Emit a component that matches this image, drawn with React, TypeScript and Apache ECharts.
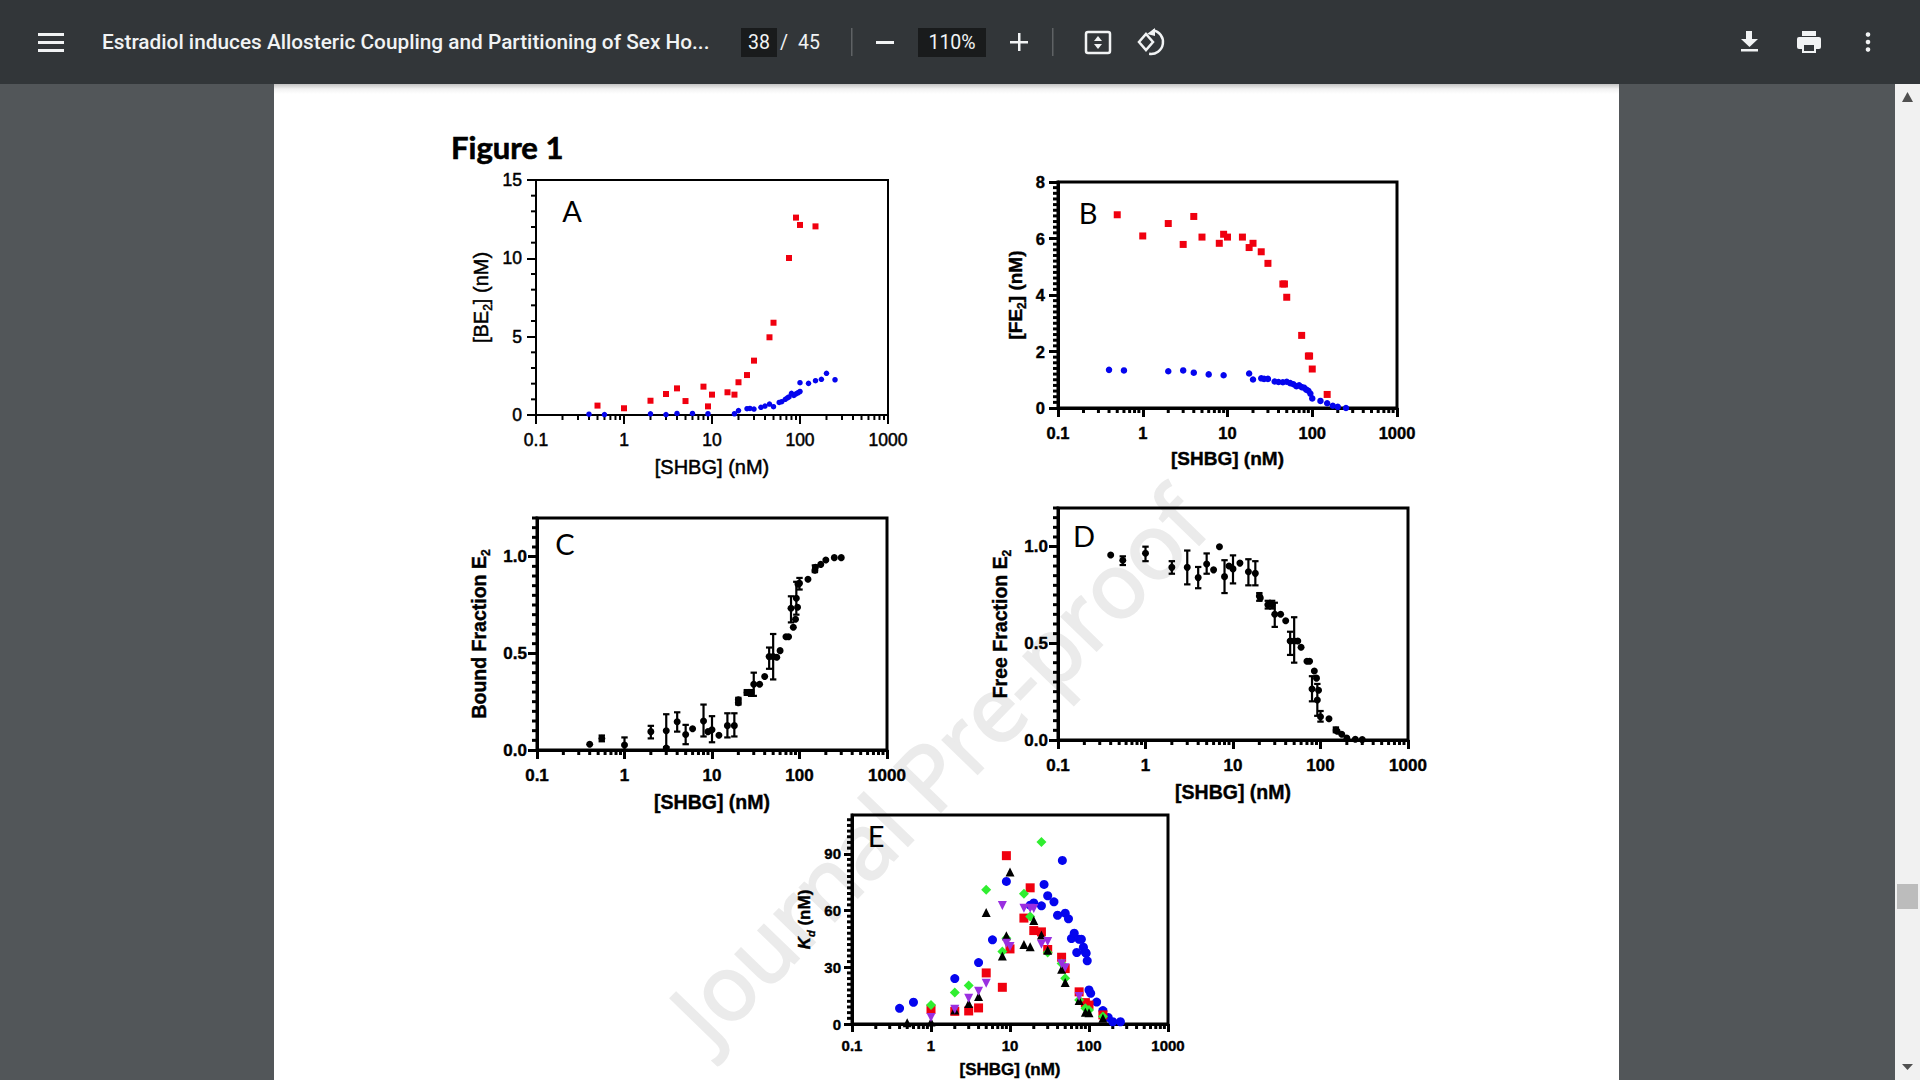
import React, { useEffect, useRef } from "react";
import * as echarts from "echarts";

const docTitle = "Estradiol induces Allosteric Coupling and Partitioning of Sex Ho...";
const figureTitle = "Figure 1";
const watermark = "Journal Pre-proof";
const xName = "[SHBG] (nM)";
const xMinor = [0.2,0.3,0.4,0.5,0.6,0.7,0.8,0.9,2,3,4,5,6,7,8,9,20,30,40,50,60,70,80,90,200,300,400,500,600,700,800,900];

// Panel A: [SHBG], [BE2]
const aRed = [[0.5,0.6],[1,0.43],[2,0.91],[3,1.34],[4,1.7],[5,0.89],[8,1.81],[9,0.55],[10,1.3],[15,1.45],[18,1.3],[20,2.09],[25,2.55],[30,3.47],[45,4.96],[50,5.89],[75,10.02],[90,12.6],[100,12.13],[150,12.04]];
const aBlue = [[0.4,0.05],[0.6,0.03],[2,0.07],[3,0.03],[4,0.1],[6,0.1],[9,0.08],[18,0.08],[20,0.28],[25,0.4],[27,0.42],[30,0.38],[36,0.49],[40,0.57],[45,0.7],[50,0.53],[58,0.8],[62,0.85],[68,1.0],[72,1.1],[75,1.15],[80,1.38],[85,1.25],[90,1.35],[95,1.42],[100,1.5],[100,2.06],[125,2.02],[150,2.19],[175,2.28],[200,2.66],[250,2.25]];

// Panel B: [SHBG], [FE2]
const bRed = [[0.5,6.84],[1,6.09],[2,6.53],[3,5.79],[4,6.78],[5,6.05],[8,5.83],[9,6.15],[10,6.05],[15,6.05],[18,5.68],[20,5.83],[25,5.53],[30,5.12],[45,4.39],[47,4.39],[50,3.92],[75,2.57],[90,1.84],[93,1.84],[100,1.38],[150,0.48]];
const bBlue = [[0.4,1.35],[0.6,1.33],[2,1.3],[3,1.33],[4,1.25],[6,1.19],[9,1.16],[18,1.22],[20,1.01],[25,1.05],[27,1.03],[30,1.03],[36,0.94],[40,0.92],[45,0.91],[50,0.93],[55,0.88],[60,0.84],[65,0.77],[70,0.8],[75,0.74],[80,0.72],[85,0.65],[90,0.61],[95,0.51],[100,0.34],[125,0.25],[150,0.17],[175,0.08],[200,0.04],[250,0]];

// Panel C: [SHBG], bound fraction, error low, error high
const cMeans = [[0.4,0.03],[0.55,0.06],[1,0.026],[2,0.095],[3,0.1],[3,0.01],[4,0.146],[5,0.08],[6,0.11],[8,0.15],[9,0.095],[10,0.105],[12,0.076],[15,0.126],[18,0.126],[20,0.245],[20,0.26],[25,0.297],[28,0.297],[30,0.34],[35,0.34],[40,0.38],[45,0.483],[50,0.483],[55,0.48],[60,0.514],[70,0.586],[75,0.586],[80,0.733],[85,0.635],[90,0.676],[92,0.785],[95,0.738],[100,0.862],[96,0.858],[125,0.883],[150,0.93],[152,0.945],[175,0.96],[200,0.983],[250,0.995],[300,0.995]];
const cErrors = [[0.55,0.045,0.075],[1,0,0.065],[2,0.06,0.125],[3,0.015,0.185],[4,0.095,0.195],[5,0.03,0.13],[8,0.07,0.235],[10,0.04,0.175],[15,0.065,0.19],[18,0.07,0.19],[20,0.235,0.27],[25,0.285,0.31],[28,0.28,0.31],[30,0.28,0.4],[45,0.42,0.53],[50,0.365,0.6],[80,0.66,0.795],[92,0.7,0.87],[100,0.83,0.89],[150,0.92,0.955]];

// Panel D: [SHBG], free fraction, error low, error high
const dMeans = [[0.4,0.957],[0.55,0.93],[1,0.966],[2,0.893],[3,0.893],[4,0.84],[5,0.91],[6,0.88],[7,1.0],[8,0.845],[9,0.9],[10,0.885],[12,0.915],[15,0.87],[18,0.862],[20,0.745],[20.5,0.735],[25,0.7],[28,0.7],[30,0.65],[35,0.65],[40,0.617],[45,0.512],[50,0.512],[55,0.512],[60,0.48],[70,0.407],[75,0.407],[80,0.264],[85,0.357],[90,0.32],[92,0.207],[95,0.257],[100,0.12],[125,0.11],[150,0.052],[155,0.045],[175,0.03],[200,0.01],[250,0.004],[300,0.002]];
const dErrors = [[0.55,0.905,0.95],[1,0.925,1.0],[2,0.86,0.925],[3,0.805,0.98],[4,0.785,0.895],[5,0.86,0.965],[8,0.76,0.93],[10,0.81,0.955],[15,0.8,0.935],[18,0.8,0.925],[20,0.72,0.76],[25,0.68,0.72],[28,0.68,0.72],[30,0.585,0.71],[45,0.44,0.56],[50,0.4,0.635],[80,0.2,0.33],[92,0.125,0.29],[100,0.095,0.15],[150,0.04,0.065]];

// Panel E: [SHBG], Kd
const eBlue = [[0.4,8.3],[0.6,11.5],[2,24],[4,32.5],[6,44.5],[9,75.4],[18,62.8],[20,64],[25,62.5],[27,73.8],[30,67.8],[36,64.6],[40,57.5],[46,86.5],[50,58.6],[55,55.6],[60,45.2],[65,48],[70,37.8],[75,44.8],[80,44.8],[85,40.6],[90,37.9],[92,37.4],[95,33.4],[100,18],[105,16.2],[125,11.6],[150,7.1],[175,3.5],[200,1.2],[250,1.2]];
const eRed = [[1,7.8],[2,6.7],[3,6.9],[4,8.5],[5,27],[8,19.4],[9,89],[10,39.7],[15,56],[18,72],[20,49.4],[25,48.7],[30,39.4],[45,35.3],[50,29.3],[75,17],[90,11.3],[100,10],[150,4.8]];
const eGreen = [[1,10],[2,16.6],[3,20.3],[5,71],[8,38.3],[9,45.3],[15,68.8],[18,56.8],[25,96.2],[30,37.8],[45,32],[50,24.2],[75,12.7],[90,8.3],[100,7.4],[150,3.9]];
const eBlack = [[0.5,0.7],[1,1],[2,7.4],[3,10.9],[4,14.5],[5,59],[8,36],[9,46.6],[10,80.3],[15,42],[18,40.8],[20,54.7],[25,47],[30,39],[45,29],[50,21.9],[75,12.4],[90,6.2],[100,6],[150,3]];
const ePurple = [[1,3.5],[2,7.8],[3,13.6],[4,17.3],[5,21.5],[8,62.6],[9,42.7],[10,41],[15,61.2],[18,61.2],[20,61],[25,42.2],[30,43.6],[45,31.8],[50,29.8],[75,14.5]];

const aYTicks = [0,5,10,15];
const bYTicks = [0,2,4,6,8];
const cYTicks = [0,0.5,1];
const dYTicks = [0,0.5,1];
const eYTicks = [0,30,60,90];

const RED = "#f0000f", BLUE = "#0505ee", GREEN = "#30ee30", BLACK = "#000000", PURPLE = "#9a2fe0";
const SANS = "'Liberation Sans', Arial, sans-serif";

function steps(max: number, step: number) {
  const out: number[] = [];
  for (let i = 0; i * step <= max + 1e-9; i++) out.push(+(i * step).toFixed(3));
  return out;
}

type Panel = {
  letter: string; lx: number; ly: number;
  left: number; right: number; top: number; bottom: number;
  yMax: number; yTicks: number[]; yStep: number;
  bold: boolean; lw: number; labelSize: number; nameSize: number; thick: number;
  xMargin: number; yMargin: number; xGap: number; yGap: number;
  yName: string; yRich: any; minorLen: number; majorLen: number;
  scatter: any[]; errors?: number[][];
};

const boldRich = (size: number, weight: string, thick: number) => {
  const ink = { color: "#000", textBorderColor: "#000", textBorderWidth: thick, fontFamily: SANS, fontWeight: weight, lineHeight: size + 6 };
  return {
    b: { ...ink, fontSize: size, verticalAlign: "middle" },
    s: { ...ink, fontSize: Math.round(size * 0.62), verticalAlign: "bottom" },
    i: { ...ink, fontSize: Math.round(size * 0.62), fontStyle: "italic", verticalAlign: "bottom" },
    k: { ...ink, fontSize: size, fontStyle: "italic", verticalAlign: "middle" },
  };
};

const sc = (data: number[][], symbol: string, size: number, color: string, rotate = 0) => ({ data, symbol, size, color, rotate });

const panels: Panel[] = [
  { letter: "A", lx: 572, ly: 210, left: 536, right: 888, top: 180, bottom: 415, yMax: 15, yTicks: aYTicks, yStep: 1,
    bold: false, lw: 2, labelSize: 17.5, nameSize: 20, thick: 0.5, xMargin: 16, yMargin: 14, xGap: 42, yGap: 42,
    yName: "{b|[BE}{s|2}{b|] (nM)}", yRich: boldRich(20, "normal", 0.5), minorLen: 5, majorLen: 9,
    scatter: [sc(aRed, "rect", 6, RED), sc(aBlue, "circle", 5.5, BLUE)] },
  { letter: "B", lx: 1088, ly: 212, left: 1058, right: 1397, top: 182, bottom: 408, yMax: 8, yTicks: bYTicks, yStep: 0.2,
    bold: true, lw: 3, labelSize: 16.5, nameSize: 19, thick: 0.4, xMargin: 16, yMargin: 13, xGap: 41, yGap: 30,
    yName: "{b|[FE}{s|2}{b|] (nM)}", yRich: boldRich(19, "bold", 0.4), minorLen: 5, majorLen: 9,
    scatter: [sc(bRed, "rect", 7, RED), sc(bBlue, "circle", 6.5, BLUE)] },
  { letter: "C", lx: 565, ly: 543, left: 537, right: 887, top: 518, bottom: 750, yMax: 1.2, yTicks: cYTicks, yStep: 0.05,
    bold: true, lw: 3, labelSize: 17, nameSize: 19.5, thick: 0.4, xMargin: 17, yMargin: 10, xGap: 42, yGap: 45,
    yName: "{b|Bound Fraction E}{s|2}", yRich: boldRich(19.5, "bold", 0.4), minorLen: 5, majorLen: 9,
    scatter: [sc(cMeans, "circle", 7, BLACK)], errors: cErrors },
  { letter: "D", lx: 1084, ly: 535, left: 1058, right: 1408, top: 508, bottom: 740, yMax: 1.2, yTicks: dYTicks, yStep: 0.05,
    bold: true, lw: 3, labelSize: 17, nameSize: 19.5, thick: 0.4, xMargin: 17, yMargin: 10, xGap: 42, yGap: 45,
    yName: "{b|Free Fraction E}{s|2}", yRich: boldRich(19.5, "bold", 0.4), minorLen: 5, majorLen: 9,
    scatter: [sc(dMeans, "circle", 7, BLACK)], errors: dErrors },
  { letter: "E", lx: 876, ly: 835, left: 852, right: 1168, top: 815, bottom: 1024, yMax: 110.5, yTicks: eYTicks, yStep: 3,
    bold: true, lw: 3, labelSize: 15, nameSize: 17, thick: 0.4, xMargin: 14, yMargin: 11, xGap: 37, yGap: 36,
    yName: "{k|K}{i|d}{b| (nM)}", yRich: boldRich(17, "bold", 0.4), minorLen: 5, majorLen: 8,
    scatter: [sc(eBlue, "circle", 9, BLUE), sc(eRed, "rect", 9, RED), sc(eGreen, "diamond", 10, GREEN), sc(eBlack, "triangle", 9, BLACK), sc(ePurple, "triangle", 9, PURPLE, 180)] },
];

function buildOption() {
  const grid: any[] = [], xAxis: any[] = [], yAxis: any[] = [], series: any[] = [];
  panels.forEach((p, idx) => {
    grid.push({ show: true, left: p.left, top: p.top, width: p.right - p.left, height: p.bottom - p.top,
      borderColor: "#000", borderWidth: p.lw, backgroundColor: "transparent", containLabel: false });
    const weight = p.bold ? "bold" : "normal";
    const ink = { color: "#000", textBorderColor: "#000", textBorderWidth: p.thick, fontFamily: SANS, fontWeight: weight };
    xAxis.push({ type: "log", logBase: 10, gridIndex: idx, min: 0.1, max: 1000, splitLine: { show: false }, minorSplitLine: { show: false },
      axisLine: { show: true, onZero: false, lineStyle: { color: "#000", width: p.lw } },
      axisTick: { show: true, length: p.majorLen, lineStyle: { color: "#000", width: p.lw } },
      axisLabel: { ...ink, show: true, margin: p.xMargin, fontSize: p.labelSize,
        formatter: (v: number) => String(+(+v).toPrecision(3)), showMinLabel: true, showMaxLabel: true },
      name: xName, nameLocation: "middle", nameGap: p.xGap,
      nameTextStyle: { ...ink, fontSize: p.nameSize } });
    yAxis.push({ type: "value", gridIndex: idx, min: 0, max: p.yMax, splitLine: { show: false },
      axisLine: { show: true, onZero: false, lineStyle: { color: "#000", width: p.lw } },
      axisTick: { show: true, length: p.majorLen, customValues: p.yTicks, lineStyle: { color: "#000", width: p.lw } },
      axisLabel: { ...ink, show: true, margin: p.yMargin, fontSize: p.labelSize, customValues: p.yTicks,
        formatter: (v: number) => (p.yStep < 0.1 ? (+v).toFixed(1) : String(v)) },
      name: p.yName, nameLocation: "middle", nameGap: p.yGap, nameTextStyle: { rich: p.yRich } });

    // minor ticks on both log-scaled x and linear y, via the axes' own scales
    series.push({ type: "custom", xAxisIndex: idx, yAxisIndex: idx, silent: true, z: 1,
      data: xMinor.map((v) => [v, 0]),
      renderItem: (_: any, api: any) => {
        const c = api.coord([api.value(0), 0]);
        return { type: "line", shape: { x1: c[0], y1: c[1], x2: c[0], y2: c[1] + p.minorLen }, style: { stroke: "#000", lineWidth: p.lw } };
      } });
    series.push({ type: "custom", xAxisIndex: idx, yAxisIndex: idx, silent: true, z: 1,
      data: steps(p.yMax, p.yStep).filter((v) => !p.yTicks.includes(v)).map((v) => [0.1, v]),
      renderItem: (_: any, api: any) => {
        const c = api.coord([0.1, api.value(1)]);
        return { type: "line", shape: { x1: c[0], y1: c[1], x2: c[0] - p.minorLen, y2: c[1] }, style: { stroke: "#000", lineWidth: p.lw } };
      } });
    if (p.errors) {
      series.push({ type: "custom", xAxisIndex: idx, yAxisIndex: idx, silent: true, z: 2,
        data: p.errors, encode: { x: 0, y: [1, 2] },
        renderItem: (_: any, api: any) => {
          const lo = api.coord([api.value(0), api.value(1)]);
          const hi = api.coord([api.value(0), api.value(2)]);
          const st = { stroke: "#000", lineWidth: 2.2 };
          const cap = 3.2;
          return { type: "group", children: [
            { type: "line", shape: { x1: lo[0], y1: lo[1], x2: hi[0], y2: hi[1] }, style: st },
            { type: "line", shape: { x1: lo[0] - cap, y1: lo[1], x2: lo[0] + cap, y2: lo[1] }, style: st },
            { type: "line", shape: { x1: hi[0] - cap, y1: hi[1], x2: hi[0] + cap, y2: hi[1] }, style: st },
          ] };
        } });
    }
    p.scatter.forEach((s, i) => {
      series.push({ type: "scatter", xAxisIndex: idx, yAxisIndex: idx, clip: false, z: 3 + i, data: s.data, symbol: s.symbol,
        symbolSize: s.size, symbolRotate: s.rotate, itemStyle: { color: s.color, opacity: 1 }, silent: true });
    });
  });

  const W = "#f1f3f4";
  const tbText = (text: string, x: number, y: number, size = 19.5, weight = "normal", align = "center") => ({ type: "text", x, y, z: 21,
    style: { text, fill: W, fontFamily: "Roboto, sans-serif", fontSize: size, fontWeight: weight, align, verticalAlign: "middle" } });
  const box = (x: number, y: number, width: number, height: number, fill: string, z = 20) => ({ type: "rect", z, shape: { x, y, width, height }, style: { fill } });

  const graphic: any[] = [
    box(0, 0, 1920, 1080, "#525659", -30),
    box(274, 84, 1345, 996, "#ffffff", -29),
    { type: "rect", z: -28, shape: { x: 274, y: 84, width: 1345, height: 10 }, style: { fill: new echarts.graphic.LinearGradient(0, 0, 0, 1, [{ offset: 0, color: "#c4c4c4" }, { offset: 0.5, color: "#f2f2f2" }, { offset: 1, color: "#ffffff" }]) } },
    box(1895, 84, 25, 996, "#f1f1f1", -27),
    box(1897, 884, 21, 25, "#bcbcbc", -26),
    { type: "polygon", z: -26, shape: { points: [[1907.5, 92], [1902, 102], [1913, 102]] }, style: { fill: "#505050" } },
    { type: "polygon", z: -26, shape: { points: [[1902, 1064], [1913, 1064], [1907.5, 1070]] }, style: { fill: "#505050" } },
    { type: "text", z: -25, x: 937, y: 765, rotation: Math.PI * 46 / 180,
      style: { text: watermark, fill: "#ebebeb", stroke: "#ebebeb", lineWidth: 2.5, fontFamily: "'Open Sans', sans-serif", fontSize: 90, align: "center", verticalAlign: "middle" } },
    box(0, 0, 1920, 84, "#323639"),
    box(38, 33, 26, 3, W, 21), box(38, 41, 26, 3, W, 21), box(38, 49, 26, 3, W, 21),
    tbText(docTitle, 102, 42, 20.8, "500", "left"),
    box(741, 28, 36, 29, "#191b1c"),
    tbText("38", 759, 42), tbText("/", 784, 42), tbText("45", 809, 42),
    box(851, 28, 1.5, 28, "#5f6265"),
    box(876, 41, 18, 3, W, 21),
    box(918, 28, 68, 29, "#191b1c"),
    tbText("110%", 952, 42),
    box(1010, 41, 18, 2.5, W, 21), box(1018, 33, 2.5, 18, W, 21),
    box(1052, 28, 1.5, 28, "#5f6265"),
    { type: "rect", z: 21, shape: { x: 1086, y: 32, width: 24, height: 21, r: 2 }, style: { fill: "none", stroke: W, lineWidth: 2.5 } },
    { type: "polygon", z: 21, shape: { points: [[1098, 36], [1094, 41], [1102, 41]] }, style: { fill: W } },
    { type: "polygon", z: 21, shape: { points: [[1094, 44], [1102, 44], [1098, 49]] }, style: { fill: W } },
    { type: "polygon", z: 21, shape: { points: [[1146, 34], [1153, 42], [1146, 50], [1139, 42]] }, style: { fill: "none", stroke: W, lineWidth: 2.5 } },
    { type: "arc", z: 21, shape: { cx: 1151, cy: 42, r: 12, startAngle: -Math.PI * 0.45, endAngle: Math.PI * 0.55 }, style: { fill: "none", stroke: W, lineWidth: 2.5 } },
    { type: "polygon", z: 21, shape: { points: [[1147, 34], [1155, 28], [1155, 36]] }, style: { fill: W } },
    box(1746, 31, 6, 9, W, 21),
    { type: "polygon", z: 21, shape: { points: [[1741, 39], [1758, 39], [1749.5, 47]] }, style: { fill: W } },
    box(1741, 49, 17, 2.5, W, 21),
    box(1802, 31, 14, 5, W, 21),
    { type: "rect", z: 21, shape: { x: 1797, y: 37, width: 24, height: 12, r: 2 }, style: { fill: W } },
    box(1802, 44, 14, 9, W, 21),
    box(1804, 45, 10, 6, "#323639", 22),
    { type: "circle", z: 21, shape: { cx: 1868, cy: 34.5, r: 2.3 }, style: { fill: W } },
    { type: "circle", z: 21, shape: { cx: 1868, cy: 42, r: 2.3 }, style: { fill: W } },
    { type: "circle", z: 21, shape: { cx: 1868, cy: 49.5, r: 2.3 }, style: { fill: W } },
    { type: "text", x: 451, y: 147, z: 5, style: { text: figureTitle, fill: "#000", stroke: "#000", lineWidth: 0.6, fontFamily: "Lato, sans-serif", fontWeight: "bold", fontSize: 31, align: "left", verticalAlign: "middle" } },
    ...panels.map((p) => ({ type: "text", x: p.lx, y: p.ly, z: 5, style: { text: p.letter, fill: "#000", fontFamily: "Lato, sans-serif", fontSize: 29, align: "center", verticalAlign: "middle" } })),
  ];
  return { animation: false, backgroundColor: "transparent", grid, xAxis, yAxis, series, graphic: { elements: graphic } };
}

export default function App() {
  const ref = useRef<HTMLDivElement>(null);
  useEffect(() => {
    document.body.style.margin = "0";
    const chart = echarts.init(ref.current!, undefined, { renderer: "svg" });
    chart.setOption(buildOption() as any);
    return () => chart.dispose();
  }, []);
  return <div ref={ref} style={{ width: 1920, height: 1080, overflow: "hidden" }} />;
}
